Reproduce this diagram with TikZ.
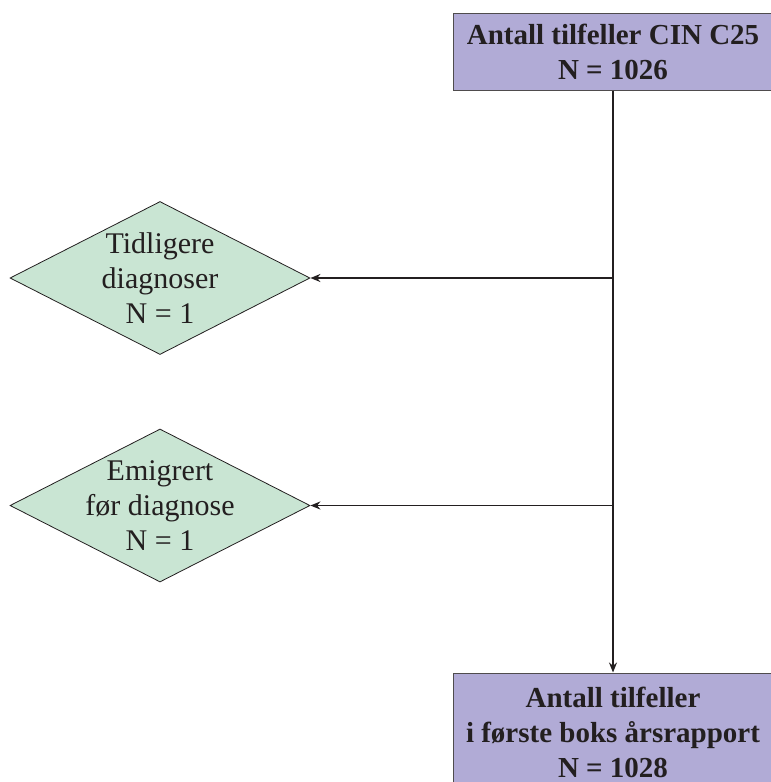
\documentclass[tikz,border=0pt]{standalone}
\usepackage{fontspec}
\setmainfont{Liberation Serif}
\usetikzlibrary{shapes.geometric,arrows.meta}
\definecolor{boxlilla}{RGB}{177,171,214}
\definecolor{exclgreen}{RGB}{201,229,211}
\definecolor{inkdark}{RGB}{35,31,32}
\tikzset{
  countbox/.style={draw=inkdark!80, line width=0.5pt, fill=boxlilla, text=inkdark,
    font=\fontsize{14.5}{17.5}\selectfont\bfseries, align=center,
    minimum width=160pt, inner sep=0pt},
  exclbox/.style={shape=diamond, draw=inkdark, line width=0.4pt, fill=exclgreen,
    minimum width=150pt, minimum height=76.5pt, inner sep=0pt},
  excltext/.style={text=inkdark, font=\fontsize{15}{17.5}\selectfont, align=center, inner sep=0pt},
  flowarrow/.style={draw=inkdark, line width=0.8pt, -{Stealth[length=5pt,width=4pt]}}
}

\begin{document}
\begin{tikzpicture}[x=0.5pt,y=-0.5pt]
  \useasboundingbox (0,0) rectangle (771,782);
  \clip (0,0) rectangle (771,782);
  \fill[white] (0,0) rectangle (771,782);
  % boxes
  \node[countbox, minimum height=38.5pt] (start) at (613,51.5) {Antall tilfeller CIN C25\\N = 1026};
  \node[exclbox] (prior) at (160,278) {};
  \node[excltext] (priortext) at (prior.center) {Tidligere\\diagnoser\\N = 1};
  \node[exclbox] (emig) at (160,505.5) {};
  \node[excltext] (emigtext) at (emig.center) {Emigrert\\før diagnose\\N = 1};
  \node[countbox, minimum height=59pt] (final) at (613,732) {Antall tilfeller\\i første boks årsrapport\\N = 1028};
  % arrows
  \coordinate (split1) at (start.south |- prior.east);
  \coordinate (split2) at (start.south |- emig.east);
  \draw[flowarrow] (start.south) -- (final.north);
  \draw[flowarrow] (split1) -- (prior.east);
  \draw[flowarrow] (split2) -- (emig.east);
\end{tikzpicture}
\end{document}
